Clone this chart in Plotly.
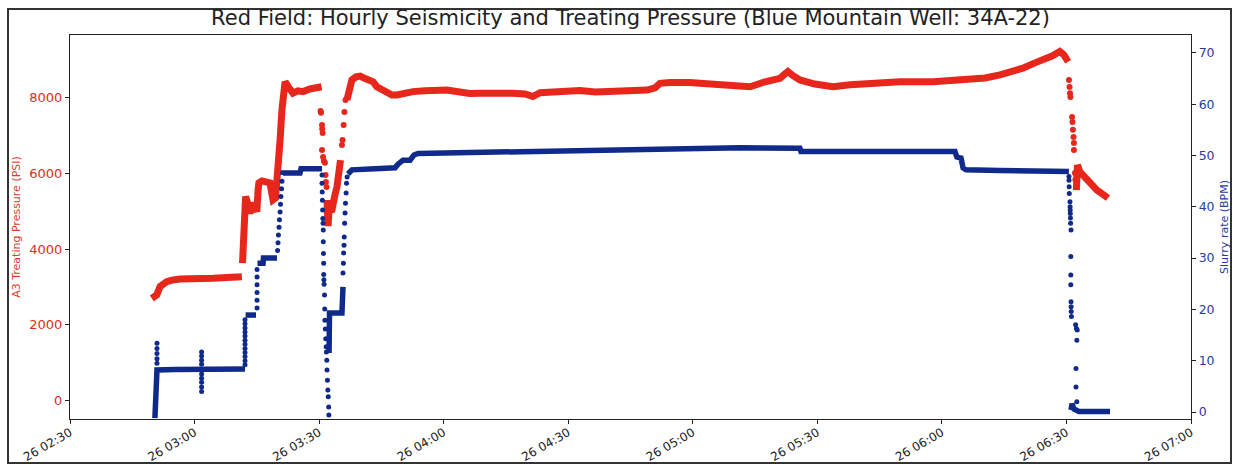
import plotly.graph_objects as go
import pandas as pd

BASE = pd.Timestamp("2021-01-26 02:30:00")
FONT = "DejaVu Sans"
RED = "#e8271c"
BLUE = "#0f2a8a"

# ---------- A3 treating pressure (PSI): time in minutes after 02:30 ----------
red_seg1_min = [19.7, 20.1, 20.9, 21.7, 22.4, 23.3, 24.6, 26.5, 34.4, 41.4]
red_seg1_psi = [2700, 2740, 2790, 3010, 3090, 3140, 3180, 3210, 3230, 3270]

red_seg2_min = [41.55, 41.8, 42.05, 42.3, 42.9, 43.35, 44.1, 45.0, 45.3, 45.5, 46.25, 47.2, 48.15,
                48.9, 49.5, 49.8, 50.1, 50.6, 51.05, 51.4, 51.8, 52.75, 53.7, 54.9, 56.1, 57.8,
                59.25, 60.6]
red_seg2_psi = [3630, 4370, 5170, 5390, 5170, 4950, 5220, 4990, 5560, 5750, 5800, 5770, 5750,
                5300, 5350, 5770, 6090, 6880, 7680, 8310, 8420, 8260, 8120, 8180, 8160, 8230,
                8260, 8290]

red_seg3_min = [61.9, 62.0, 62.15, 62.4, 62.6, 63.0, 63.35, 63.8, 64.3, 64.8, 65.15]
red_seg3_psi = [5300, 4900, 4610, 5030, 5090, 4980, 5110, 5430, 5640, 5960, 6350]

red_seg4_min = [66.7, 67.2, 67.9, 68.9, 69.85, 70.8, 71.8, 73.0, 73.9, 75.4, 76.35, 77.55, 78.75,
                80.7, 82.6, 85.5, 88.4, 90.8, 93.9, 96.3, 98.75, 102.4, 106.7, 109.6, 111.5,
                113.2, 116.8, 120.4, 122.8, 126.5, 130.8, 134.9, 139.0, 140.9, 142.1, 144.5,
                146.9, 149.3, 151.7, 155.35, 159.7, 163.8, 167.4, 171.0, 172.2, 172.9, 173.9,
                175.8, 179.4, 183.8, 187.9, 192.0, 196.3, 199.9, 207.9, 216.0, 220.4, 224.0,
                227.1, 229.5, 232.4, 234.8, 236.5, 238.4, 239.4, 240.4]
red_seg4_psi = [7940, 8260, 8470, 8550, 8570, 8520, 8470, 8420, 8290, 8200, 8120, 8070, 8070,
                8120, 8160, 8180, 8200, 8200, 8150, 8110, 8120, 8140, 8120, 8100, 8030,
                8130, 8150, 8180, 8190, 8150, 8160, 8180, 8200, 8260, 8380, 8400,
                8420, 8400, 8380, 8360, 8340, 8290, 8420, 8510, 8630, 8690, 8600,
                8470, 8360, 8290, 8340, 8380, 8420, 8420, 8420, 8470, 8520, 8600,
                8680, 8780, 8920, 9000, 9100, 9220, 9130, 8950]

red_seg5_min = [242.4, 242.65, 243.25, 244.95, 247.35, 250.0]
red_seg5_psi = [5560, 6220, 6040, 5830, 5560, 5350]

red_dot_min = [60.35, 60.45, 60.7, 60.75, 60.85, 60.7, 60.95, 61.15, 61.4, 61.55, 61.65, 61.8,
               65.5, 65.65, 65.9, 66.1, 66.35,
               240.6, 240.75, 240.85, 240.95, 241.35, 241.45, 241.55, 241.7, 241.8, 241.8,
               242.05, 242.15, 242.3]
red_dot_psi = [7650, 7600, 7280, 7170, 7070, 6620, 6430, 6330, 6280, 5960, 5770, 5640,
               6750, 6880, 7280, 7620, 7940,
               8470, 8280, 8120, 8020, 7490, 7360, 7150, 6960, 6800, 6620,
               6010, 5830, 5640]

# ---------- Slurry rate (BPM) ----------
blue_seg1_min = [20.45, 20.7, 20.85, 20.95, 25.3, 31.3, 37.3, 42.15]
blue_seg1_bpm = [-1.2, 2.3, 6.2, 8.2, 8.3, 8.3, 8.4, 8.4]
blue_seg2_min = [42.3, 44.8]
blue_seg2_bpm = [18.9, 18.9]
blue_seg3_min = [45.15, 46.5, 46.6, 49.85]
blue_seg3_bpm = [29.0, 29.0, 30.0, 30.0]
blue_seg4_min = [51.2, 51.3, 55.4, 55.65, 60.7]
blue_seg4_bpm = [46.2, 46.6, 46.6, 47.4, 47.4]
blue_seg5_min = [62.4, 62.5, 65.5, 65.65, 65.75]
blue_seg5_bpm = [11.5, 19.3, 19.3, 21.8, 24.4]
blue_seg6_min = [66.95, 67.9, 73.5, 78.3, 79.0, 80.2, 81.9, 82.85, 83.8, 91.5, 103.6, 115.6,
                 127.7, 139.7, 151.7, 161.4, 175.8, 176.05, 187.9, 199.9, 213.15, 213.6,
                 214.6, 215.1, 215.8, 224.0, 233.6, 240.6]
blue_seg6_bpm = [46.4, 47.2, 47.4, 47.6, 48.3, 49.1, 49.1, 50.1, 50.4, 50.5, 50.6, 50.7,
                 50.9, 51.1, 51.4, 51.5, 51.4, 50.8, 50.8, 50.8, 50.8, 49.7,
                 49.5, 47.6, 47.2, 47.1, 47.0, 46.9]
blue_seg7_min = [241.1, 241.35, 241.8, 243.0, 250.5]
blue_seg7_bpm = [0.4, 1.6, 0.6, 0.1, 0.1]

blue_dot1_min = [20.95, 20.95, 20.95, 20.95, 20.95]
blue_dot1_bpm = [13.4, 12.4, 11.4, 10.4, 9.5]
blue_dot2_min = [31.7, 31.7, 31.7, 31.7, 31.7, 31.7, 31.7, 31.7, 31.7]
blue_dot2_bpm = [11.7, 10.9, 10.1, 9.3, 7.4, 6.6, 5.8, 4.9, 4.0]
blue_dot3_min = [42.15, 42.15, 42.15, 42.15, 42.15, 42.15, 42.15, 42.15, 42.15, 42.15, 42.15, 42.15]
blue_dot3_bpm = [9.2, 10.0, 10.8, 11.6, 12.4, 13.2, 14.0, 14.8, 15.6, 16.4, 17.2, 18.0]
blue_dot4_min = [45.05, 45.05, 45.05, 45.05, 45.05, 45.05]
blue_dot4_bpm = [20.3, 21.8, 23.3, 24.8, 26.3, 27.8]
blue_dot5_min = [50.0, 50.1, 50.2, 50.35, 50.45, 50.6, 50.7, 50.8, 50.95, 51.05]
blue_dot5_bpm = [31.5, 33.0, 34.5, 36.0, 37.5, 39.0, 40.5, 42.0, 43.5, 45.0]
blue_dot6_min = [60.7, 60.7, 60.75, 60.8, 60.85, 60.9, 60.95, 61.0, 61.0, 61.05, 61.1, 61.1,
                 61.15, 61.2, 61.3, 61.35, 61.4, 61.5, 61.6, 61.7, 61.75, 61.85, 61.9, 62.0,
                 62.1, 62.2, 62.3, 62.35]
blue_dot6_bpm = [46.2, 44.6, 42.9, 41.3, 39.4, 37.7, 36.8, 35.5, 33.2, 30.9, 29.0, 26.8,
                 25.8, 24.9, 22.8, 20.1, 17.9, 16.2, 14.3, 12.7, 11.7, 10.1, 8.2, 6.2,
                 4.3, 3.0, 1.0, -0.6]
blue_dot7_min = [65.75, 65.85, 65.9, 66.0, 66.05, 66.15, 66.25, 66.35, 66.5, 66.6, 66.75]
blue_dot7_bpm = [27.1, 29.0, 31.0, 32.5, 34.1, 36.8, 38.8, 40.7, 42.7, 44.6, 45.8]
blue_dot8_min = [240.6, 240.62, 240.65, 240.68, 240.85, 240.88, 240.9, 240.93, 240.96, 241.0,
                 241.1, 241.05, 241.05, 241.05, 241.1, 241.12, 241.15, 241.2, 242.2, 242.4,
                 242.6, 242.5, 242.3, 242.3, 242.5]
blue_dot8_bpm = [45.9, 45.2, 43.9, 42.6, 41.0, 40.0, 39.4, 38.7, 37.8, 36.8,
                 35.5, 30.3, 26.7, 24.8, 21.5, 20.5, 19.6, 18.6, 17.0, 16.3,
                 16.0, 14.0, 8.5, 4.9, 2.0]

# axis ticks
x_tick_minutes = [0, 30, 60, 90, 120, 150, 180, 210, 240, 270]
psi_ticks = [0, 2000, 4000, 6000, 8000]
bpm_ticks = [0, 10, 20, 30, 40, 50, 60, 70]


def to_time(mins):
    return [BASE + pd.Timedelta(minutes=m) for m in mins]


def join(segments):
    xs, ys = [], []
    for t, v in segments:
        xs += to_time(t) + [None]
        ys += list(v) + [None]
    return xs, ys


red_lx, red_ly = join([(red_seg1_min, red_seg1_psi), (red_seg2_min, red_seg2_psi),
                       (red_seg3_min, red_seg3_psi), (red_seg4_min, red_seg4_psi),
                       (red_seg5_min, red_seg5_psi)])
blue_lx, blue_ly = join([(blue_seg1_min, blue_seg1_bpm), (blue_seg2_min, blue_seg2_bpm),
                         (blue_seg3_min, blue_seg3_bpm), (blue_seg4_min, blue_seg4_bpm),
                         (blue_seg5_min, blue_seg5_bpm), (blue_seg6_min, blue_seg6_bpm),
                         (blue_seg7_min, blue_seg7_bpm)])
blue_dmin = (blue_dot1_min + blue_dot2_min + blue_dot3_min + blue_dot4_min + blue_dot5_min
             + blue_dot6_min + blue_dot7_min + blue_dot8_min)
blue_dbpm = (blue_dot1_bpm + blue_dot2_bpm + blue_dot3_bpm + blue_dot4_bpm + blue_dot5_bpm
             + blue_dot6_bpm + blue_dot7_bpm + blue_dot8_bpm)

fig = go.Figure()
fig.add_trace(go.Scatter(x=red_lx, y=red_ly, mode="lines", yaxis="y",
                         line=dict(color=RED, width=7), connectgaps=False, showlegend=False))
fig.add_trace(go.Scatter(x=to_time(red_dot_min), y=red_dot_psi, mode="markers", yaxis="y",
                         marker=dict(color=RED, size=6), showlegend=False))
fig.add_trace(go.Scatter(x=blue_lx, y=blue_ly, mode="lines", yaxis="y2",
                         line=dict(color=BLUE, width=5.5), connectgaps=False, showlegend=False))
fig.add_trace(go.Scatter(x=to_time(blue_dmin), y=blue_dbpm, mode="markers", yaxis="y2",
                         marker=dict(color=BLUE, size=5), showlegend=False))

W, H = 1234, 467
L, R, T, B = 70, 43, 35, 48
pw, ph = W - L - R, H - T - B

fig.update_layout(
    width=W, height=H,
    margin=dict(l=L, r=R, t=T, b=B, autoexpand=False),
    paper_bgcolor="white", plot_bgcolor="white",
    font=dict(family=FONT, color="#222"),
    title=dict(text="Red Field: Hourly Seismicity and Treating Pressure (Blue Mountain Well: 34A-22)",
               font=dict(family=FONT, size=21, color="#222"),
               x=0.5, xref="paper", xanchor="center",
               y=1 - 18 / H, yref="container", yanchor="middle"),
    xaxis=dict(type="date", automargin=False,
               range=[BASE, BASE + pd.Timedelta(minutes=270)],
               tickvals=to_time(x_tick_minutes), tickformat="%d %H:%M",
               tickangle=-30, tickfont=dict(size=12, color="#222"),
               ticklabelstandoff=-3,
               ticks="outside", ticklen=4, tickcolor="#222",
               showline=True, linecolor="#222", linewidth=1.3, mirror=True,
               showgrid=False, zeroline=False),
    yaxis=dict(range=[-489, 9656], tickvals=psi_ticks, automargin=False,
               tickfont=dict(size=13, color="#d8301e"),
               ticks="outside", ticklen=4, tickcolor="#222",
               title=dict(text="A3 Treating Pressure (PSI)", font=dict(size=11, color="#d9402a"),
                          standoff=6),
               showline=True, linecolor="#222", linewidth=1.3, mirror=True,
               showgrid=False, zeroline=False),
    yaxis2=dict(range=[-1.36, 73.49], tickvals=bpm_ticks, overlaying="y", side="right",
                automargin=False,
                tickfont=dict(size=12.5, color="#2a3c9c"),
                ticks="outside", ticklen=4, tickcolor="#222",
                title=dict(text="Slurry rate (BPM)", font=dict(size=11, color="#2a3c9c"),
                           standoff=6),
                showline=True, linecolor="#222", linewidth=1.3,
                showgrid=False, zeroline=False),
)

# outer scanned-figure border
fig.add_shape(type="rect", xref="paper", yref="paper",
              x0=(8 - L) / pw, x1=(1231 - L) / pw,
              y0=(H - B - 463) / ph, y1=(H - B - 9) / ph,
              line=dict(color="#333", width=2), fillcolor="rgba(0,0,0,0)", layer="above")

fig.write_html("out.html")
